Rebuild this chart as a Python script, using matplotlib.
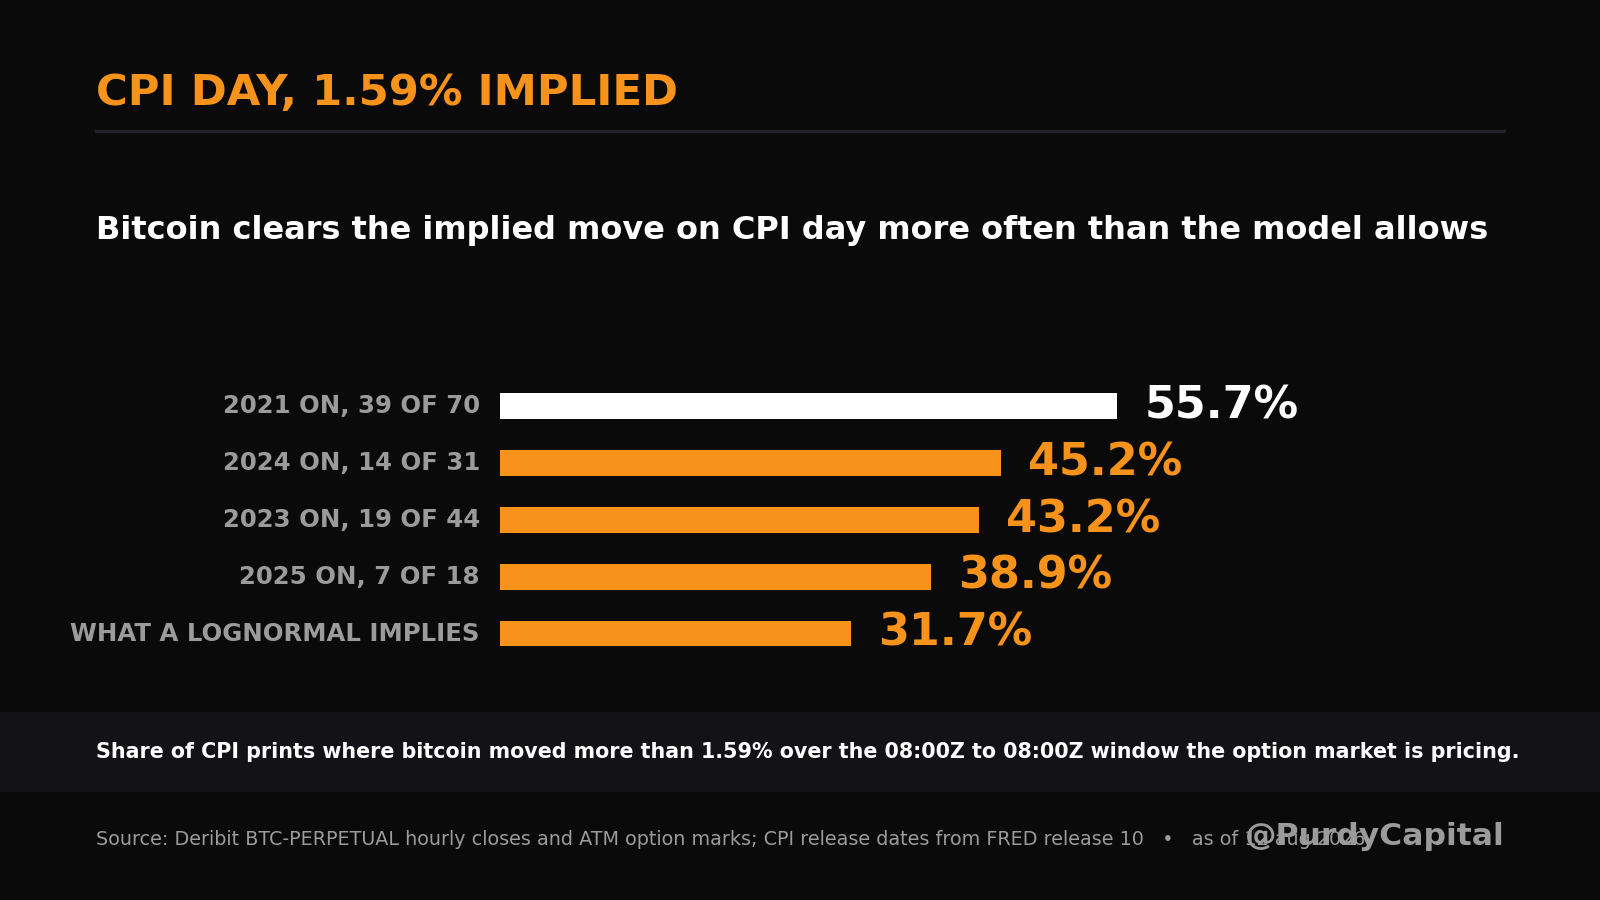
import matplotlib
matplotlib.use("Agg")
import matplotlib.pyplot as plt
from matplotlib.patches import Rectangle
from matplotlib.lines import Line2D

categories = ["2021 ON, 39 OF 70", "2024 ON, 14 OF 31", "2023 ON, 19 OF 44",
              "2025 ON, 7 OF 18", "WHAT A LOGNORMAL IMPLIES"]
values = [55.7, 45.2, 43.2, 38.9, 31.7]
value_labels = ["55.7%", "45.2%", "43.2%", "38.9%", "31.7%"]
bar_colors = ["#FFFFFF", "#F7931A", "#F7931A", "#F7931A", "#F7931A"]

title = "CPI DAY, 1.59% IMPLIED"
subtitle = "Bitcoin clears the implied move on CPI day more often than the model allows"
note = ("Share of CPI prints where bitcoin moved more than 1.59% over the 08:00Z to 08:00Z "
        "window the option market is pricing.")
source = ("Source: Deribit BTC-PERPETUAL hourly closes and ATM option marks; CPI release dates "
          "from FRED release 10   \u2022   as of 12 aug 2026")
handle = "@PurdyCapital"

BG = "#0A0A0A"
ORANGE = "#F7931A"
GRAY = "#9B9B9B"

plt.rcParams['font.family'] = ['DejaVu Sans']

fig = plt.figure(figsize=(16, 9), dpi=100, facecolor=BG)

W, H = 1568.0, 882.0
def fx(px):
    return px / W
def fy(py):
    return 1 - py / H

# title
fig.text(fx(94), fy(103), title, color=ORANGE, fontsize=31.2, fontweight='bold',
         ha='left', va='baseline')
# rule
fig.add_artist(Line2D([fx(94), fx(1474)], [fy(128.5), fy(128.5)], color="#222226",
                      linewidth=2.5, transform=fig.transFigure))
# subtitle
fig.text(fx(94), fy(234), subtitle, color="white", fontsize=23.0, fontweight='bold',
         ha='left', va='baseline')

# footer band
fig.add_artist(Rectangle((0, fy(776)), 1, fy(698) - fy(776), transform=fig.transFigure,
                         facecolor="#131317", edgecolor='none', zorder=0))
fig.text(fx(94), fy(743), note, color="white", fontsize=14.85, fontweight='bold',
         ha='left', va='baseline')
fig.text(fx(94), fy(828), source, color=GRAY, fontsize=13.75, ha='left', va='baseline')
fig.text(fx(1475), fy(828), handle, color=GRAY, fontsize=22.6, fontweight='bold',
         ha='right', va='baseline')

# bars
px_per_pct = (1095 - 490) / 55.7
xmax = 60
spacing = 55.75
top = 398 - spacing / 2
bottom = 621 + spacing / 2
ax = fig.add_axes([fx(490), fy(bottom), xmax * px_per_pct / W, (bottom - top) / H])
ax.set_facecolor('none')
ypos = list(range(len(categories)))
ax.barh(ypos, values, height=25 / spacing, color=bar_colors, zorder=2)
ax.set_xlim(0, xmax)
ax.set_ylim(len(categories) - 0.5, -0.5)
ax.set_yticks([])
ax.set_xticks([])
for s in ax.spines.values():
    s.set_visible(False)
for y, cat in zip(ypos, categories):
    ax.annotate(cat, xy=(0, y), xycoords=('axes fraction', 'data'),
                xytext=(-14.5, 1.8), textcoords='offset points',
                color=GRAY, fontsize=17.6, fontweight='bold', ha='right',
                va='center_baseline', annotation_clip=False)
for y, v, lab, c in zip(ypos, values, value_labels, bar_colors):
    ax.annotate(lab, xy=(v, y), xytext=(19.5, 3.5), textcoords='offset points',
                color=c, fontsize=32, fontweight='bold', ha='left',
                va='center_baseline', annotation_clip=False)

fig.savefig("out.png", dpi=100, facecolor=BG)
